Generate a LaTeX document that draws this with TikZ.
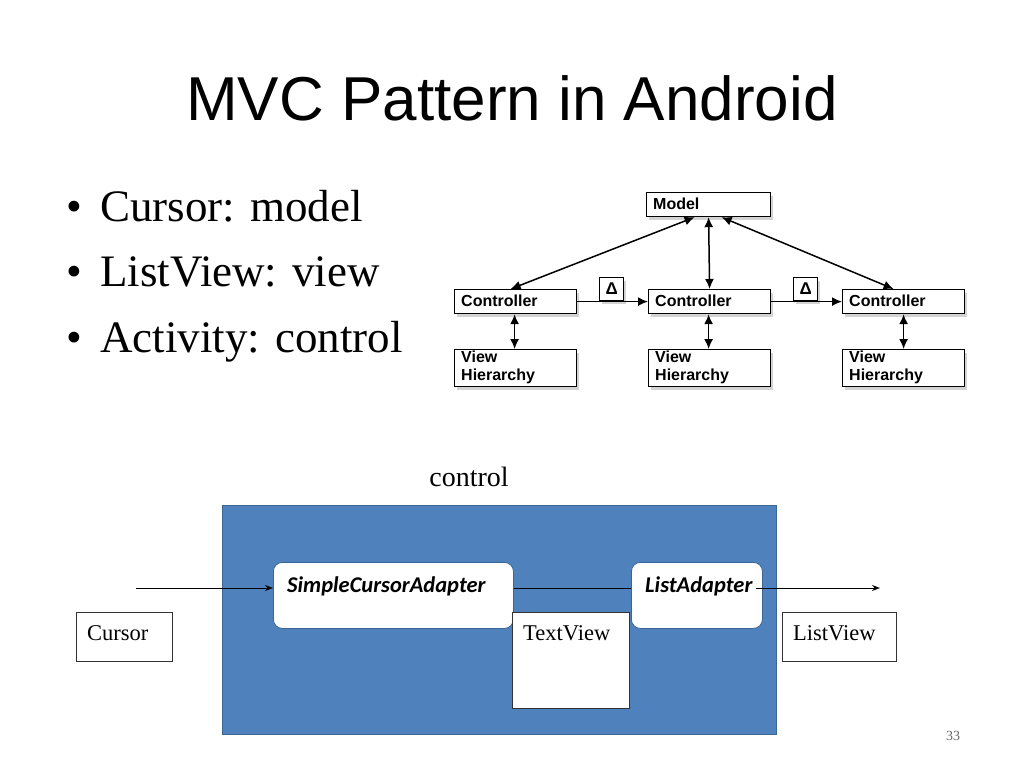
\documentclass[tikz,border=0pt]{standalone}
\usepackage{fontspec}
\setmainfont{Liberation Serif}
\setsansfont{Liberation Sans}
\newfontfamily\carlito{Carlito}
\usetikzlibrary{arrows.meta,shadows}
\definecolor{boxblue}{HTML}{4F81BD}
\definecolor{boxedge}{HTML}{3B6592}
\tikzset{
  mvcbox/.style={draw=black, line width=1.2pt, fill=white, anchor=north west, inner sep=0pt, drop shadow={shadow xshift=2pt, shadow yshift=-3pt, opacity=0.35}},
  mvctext/.style={font=\sffamily\bfseries\fontsize{16}{18}\selectfont, inner sep=0pt},
  mvcarrow/.style={line width=1.5pt, {Latex[length=10pt,width=9pt]}-{Latex[length=10pt,width=9pt]}},
  mvcone/.style={line width=1.5pt, -{Latex[length=10pt,width=9pt]}},
  adapter/.style={draw=boxedge, line width=0.8pt, fill=white, rounded corners=9pt, anchor=north west},
  plainbox/.style={draw=black!80, line width=0.8pt, fill=white, anchor=north west},
  flow/.style={line width=1pt, -{Stealth[length=8pt,width=6pt]}},
}
\begin{document}
\begin{tikzpicture}[x=1pt,y=-1pt]
\useasboundingbox (0,0) rectangle (1024,768);
% title
\node[font=\sffamily\fontsize{62}{62}\selectfont, anchor=base] (title) at (512,120) {MVC Pattern in Android};
% bullets
\foreach \t/\yy/\n in {{Cursor: model}/221/b1,{ListView: view}/286/b2,{Activity: control}/352/b3}{
  \node[font=\fontsize{45}{45}\selectfont, anchor=base west, inner sep=0pt] (\n) at (100,\yy) {\t};
  \node[font=\fontsize{45}{45}\selectfont, anchor=base west, inner sep=0pt] (\n dot) at (66,\yy) {•};
}
% MVC diagram
\node[mvcbox, minimum width=124pt, minimum height=24pt] (model) at (646,192) {};
\node[mvctext, anchor=west] (modelt) at (653,204) {Model};
\foreach \cx/\n in {454/c1,648/c2,842/c3}{
  \node[mvcbox, minimum width=122pt, minimum height=24pt] (\n) at (\cx,289) {};
  \node[mvctext, anchor=west] (\n t) at (\cx+7,301) {Controller};
  \node[mvcbox, minimum width=122pt, minimum height=37pt] (v\n) at (\cx,349) {};
  \node[mvctext, anchor=north west, align=left] (v\n t) at (\cx+7,351) {View\\Hierarchy};
}
\node[mvcbox, minimum width=24pt, minimum height=23pt] (d1) at (599,277) {};
\node[mvctext, font=\sffamily\bfseries\fontsize{17}{17}\selectfont] (d1t) at (d1.center) {Δ};
\node[mvcbox, minimum width=24pt, minimum height=23pt] (d2) at (793,277) {};
\node[mvctext, font=\sffamily\bfseries\fontsize{17}{17}\selectfont] (d2t) at (d2.center) {Δ};
\draw[mvcarrow] ([xshift=-14pt]model.south) -- ([xshift=-5pt]c1.north);
\draw[mvcarrow] (model.south) -- (c2.north);
\draw[mvcarrow] ([xshift=13pt]model.south) -- ([xshift=-10pt]c3.north);
\draw[mvcone] (c1.east) -- (c2.west);
\draw[mvcone] (c2.east) -- (c3.west);
\draw[mvcarrow] ([xshift=-1pt]c1.south) -- ([xshift=-1pt]vc1.north);
\draw[mvcarrow] ([xshift=-1pt]c2.south) -- ([xshift=-1pt]vc2.north);
\draw[mvcarrow] ([xshift=0pt]c3.south) -- ([xshift=0pt]vc3.north);
% bottom diagram
\node[font=\fontsize{28}{28}\selectfont, anchor=base] (ctrl) at (469,486) {control};
\node[draw=boxedge, line width=1pt, fill=boxblue, anchor=north west, minimum width=554pt, minimum height=229pt] (blue) at (222,505) {};
\node[adapter, minimum width=240pt, minimum height=66pt] (sca) at (273,562) {};
\node[font=\carlito\bfseries\itshape\fontsize{22.5}{22.5}\selectfont, anchor=base west, inner sep=0pt] (scat) at (287,592) {SimpleCursorAdapter};
\node[adapter, minimum width=131pt, minimum height=66pt] (la) at (631,562) {};
\node[font=\carlito\bfseries\itshape\fontsize{22.5}{22.5}\selectfont, anchor=base west, inner sep=0pt] (lat) at (645,592) {ListAdapter};
\node[plainbox, minimum width=117pt, minimum height=96pt] (tv) at (512,612) {};
\node[font=\fontsize{22.5}{22.5}\selectfont, anchor=base west, inner sep=0pt] (tvt) at (523,640) {TextView};
\node[plainbox, minimum width=96pt, minimum height=49pt] (cur) at (76,612) {};
\node[font=\fontsize{22.5}{22.5}\selectfont, anchor=base west, inner sep=0pt] (curt) at (87,640) {Cursor};
\node[plainbox, minimum width=114pt, minimum height=49pt] (lv) at (782,612) {};
\node[font=\fontsize{22.5}{22.5}\selectfont, anchor=base west, inner sep=0pt] (lvt) at (793,640) {ListView};
\coordinate (in) at (136,588);
\coordinate (out) at (880,588);
\draw[flow] (in) -- (sca.west |- in);
\draw[line width=1pt] (sca.east |- in) -- (la.west |- in);
\draw[flow] ([xshift=3pt]lat.east |- in) -- (out);
\node[font=\fontsize{14}{14}\selectfont, text=black!60, anchor=base] (pg) at (953,740) {33};
\end{tikzpicture}
\end{document}
